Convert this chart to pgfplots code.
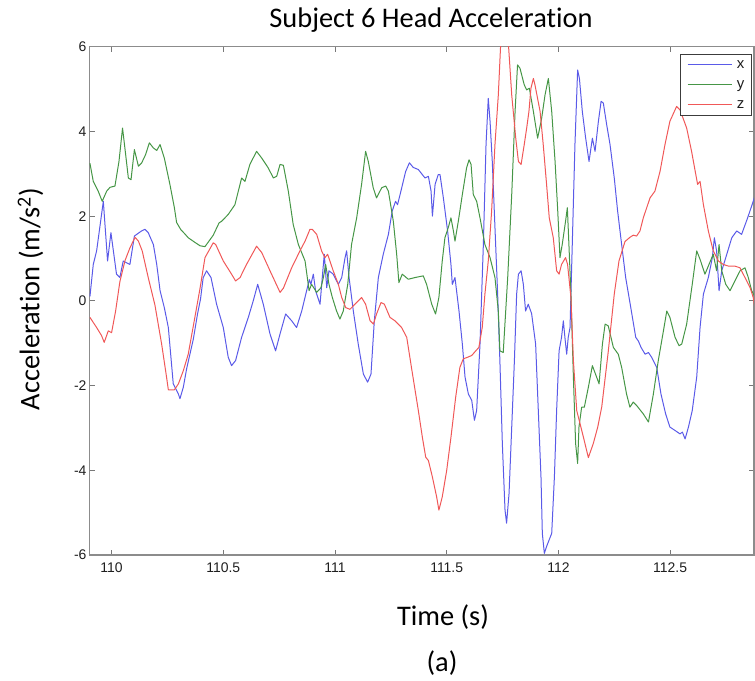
\documentclass[border=0pt]{standalone}
\usepackage{pgfplots}
\pgfplotsset{compat=1.18}
\usepackage{fontspec}
\setmainfont{Carlito}[Ligatures=NoCommon]
\newfontfamily\tickfont{Liberation Sans}
\definecolor{mx}{RGB}{90,90,232}
\definecolor{my}{RGB}{70,150,70}
\definecolor{mz}{RGB}{240,88,88}
\definecolor{axgray}{RGB}{140,140,140}
\definecolor{tickgray}{RGB}{120,120,120}
\definecolor{labgray}{RGB}{30,30,30}
\definecolor{leggray}{RGB}{60,60,60}
\pgfplotsset{legend image code/.code={\draw[#1] (0bp,0bp) -- (44.7bp,0bp);}}
\begin{document}
\begin{tikzpicture}
\path[use as bounding box] (-89.7bp,-126bp) rectangle (665.3bp,555bp);
\begin{axis}[
  at={(0,0)}, anchor=south west,
  scale only axis, width=664.2bp, height=508.3bp,
  xmin=109.902, xmax=112.875, ymin=-6, ymax=6,
  xtick={110,110.5,111,111.5,112,112.5},
  xticklabels={110,110.5,111,111.5,112,112.5},
  ytick={-6,-4,-2,0,2,4,6},
  yticklabels={-6,-4,-2,0,2,4,6},
  tick align=inside, major tick length=5bp,
  tick style={draw=tickgray, line width=0.8bp},
  axis line style={draw=axgray, line width=1.3bp},
  ticklabel style={font=\fontsize{14}{16}\selectfont\tickfont, text=labgray},
  xticklabel style={inner sep=0pt, yshift=-7.5bp},
  yticklabel style={inner sep=0pt, xshift=-3bp},
  legend style={at={(0.9967,0.9856)}, anchor=north east, draw=leggray, line width=0.8bp,
    fill=white, font=\fontsize{15}{17}\selectfont\tickfont, text=labgray,
    inner xsep=7bp, inner ysep=4bp, row sep=6.8bp,
    nodes={inner sep=0pt, text height=10bp, text depth=3bp},
    /tikz/every odd column/.append style={column sep=4bp}},
  legend cell align=left,
  every axis plot/.append style={line width=1bp, line join=round},
]
\addplot[mx] coordinates {
(109.903,0.10)(109.918,0.86)(109.933,1.18)(109.963,2.35)(109.982,0.94)(109.997,1.61)
(110.022,0.63)(110.037,0.55)(110.052,0.94)(110.067,0.90)(110.082,0.86)(110.102,1.53)
(110.134,1.65)(110.149,1.69)(110.164,1.61)(110.187,1.33)(110.202,0.86)(110.217,0.24)
(110.236,-0.16)(110.254,-0.63)(110.276,-1.96)(110.299,-2.20)(110.306,-2.31)(110.321,-2.04)
(110.336,-1.60)(110.366,-0.90)(110.385,-0.30)(110.398,0.04)(110.410,0.55)(110.425,0.71)
(110.445,0.55)(110.470,-0.08)(110.500,-0.63)(110.522,-1.33)(110.537,-1.53)(110.555,-1.41)
(110.582,-0.86)(110.612,-0.39)(110.634,0.00)(110.654,0.39)(110.679,-0.08)(110.709,-0.78)
(110.734,-1.18)(110.754,-0.78)(110.779,-0.31)(110.806,-0.47)(110.828,-0.63)(110.851,-0.24)
(110.873,0.24)(110.885,0.50)(110.892,0.39)(110.903,0.63)(110.913,0.24)(110.933,-0.08)
(110.943,0.55)(110.952,1.10)(110.963,0.31)(110.973,0.71)(110.992,0.63)(111.015,0.39)
(111.030,0.55)(111.045,1.02)(111.052,1.18)(111.063,0.55)(111.082,-0.24)(111.104,-1.02)
(111.127,-1.73)(111.146,-1.92)(111.161,-1.73)(111.176,-0.47)(111.194,0.55)(111.216,1.10)
(111.239,1.57)(111.256,2.12)(111.271,2.35)(111.280,2.27)(111.295,2.59)(111.316,3.05)
(111.333,3.26)(111.350,3.15)(111.373,3.10)(111.391,2.98)(111.403,2.90)(111.418,2.94)
(111.430,2.59)(111.436,2.00)(111.448,2.75)(111.462,2.98)(111.470,2.98)(111.485,2.43)
(111.504,1.65)(111.519,0.86)(111.525,0.39)(111.537,0.55)(111.555,-0.24)(111.570,-1.02)
(111.582,-1.80)(111.597,-2.20)(111.612,-2.35)(111.624,-2.82)(111.634,-2.59)(111.649,-1.02)
(111.664,1.33)(111.676,3.69)(111.686,4.78)(111.694,4.24)(111.704,3.29)(111.716,1.73)
(111.728,0.16)(111.738,-1.41)(111.749,-3.37)(111.761,-4.94)(111.768,-5.25)(111.779,-4.55)
(111.791,-2.98)(111.803,-1.41)(111.813,0.16)(111.821,0.63)(111.833,0.71)(111.843,0.39)
(111.853,-0.24)(111.865,-0.08)(111.880,-0.30)(111.898,-1.02)(111.910,-2.59)(111.922,-4.16)
(111.928,-5.49)(111.937,-5.96)(111.947,-5.80)(111.958,-5.65)(111.970,-5.49)(111.982,-4.16)
(111.992,-2.59)(112.003,-1.18)(112.014,-0.86)(112.022,-0.47)(112.029,-0.86)(112.037,-1.26)
(112.044,-0.86)(112.052,-0.63)(112.062,1.33)(112.074,3.69)(112.086,5.45)(112.094,5.25)
(112.107,4.47)(112.122,3.84)(112.137,3.29)(112.152,3.84)(112.164,3.53)(112.179,4.24)
(112.191,4.71)(112.201,4.67)(112.216,4.16)(112.231,3.69)(112.250,2.90)(112.265,2.12)
(112.283,1.33)(112.301,0.55)(112.322,-0.10)(112.346,-0.86)(112.358,-0.95)(112.370,-1.10)
(112.388,-1.26)(112.403,-1.22)(112.417,-1.33)(112.440,-1.57)(112.459,-2.20)(112.480,-2.67)
(112.499,-2.98)(112.522,-3.06)(112.544,-3.14)(112.555,-3.10)(112.567,-3.26)(112.582,-2.98)
(112.599,-2.59)(112.619,-1.80)(112.634,-0.63)(112.649,0.16)(112.671,0.55)(112.689,1.02)
(112.698,1.49)(112.708,1.18)(112.719,0.24)(112.731,0.71)(112.749,1.02)(112.776,1.49)
(112.798,1.65)(112.820,1.57)(112.847,1.96)(112.872,2.35)(112.881,2.51)
};
\addlegendentry{x}
\addplot[my] coordinates {
(109.903,3.25)(109.918,2.82)(109.940,2.59)(109.958,2.35)(109.978,2.59)(109.993,2.68)
(110.015,2.71)(110.033,3.29)(110.049,4.08)(110.063,3.45)(110.075,2.90)(110.087,2.86)
(110.102,3.57)(110.120,3.18)(110.134,3.25)(110.152,3.45)(110.169,3.73)(110.187,3.61)
(110.202,3.55)(110.217,3.69)(110.236,3.37)(110.261,2.75)(110.281,2.20)(110.291,1.85)
(110.310,1.68)(110.328,1.58)(110.343,1.49)(110.373,1.38)(110.396,1.30)(110.418,1.28)
(110.455,1.55)(110.481,1.84)(110.493,1.88)(110.522,2.04)(110.552,2.27)(110.582,2.90)
(110.597,2.82)(110.619,3.22)(110.649,3.53)(110.672,3.37)(110.701,3.14)(110.724,2.90)
(110.739,2.94)(110.754,3.22)(110.769,3.20)(110.791,2.59)(110.813,1.80)(110.836,1.33)
(110.866,0.94)(110.884,0.24)(110.895,0.39)(110.918,0.20)(110.937,0.31)(110.948,0.55)
(110.958,0.86)(110.973,0.39)(110.988,0.08)(111.007,-0.24)(111.022,-0.43)(111.037,-0.24)
(111.057,0.39)(111.074,1.33)(111.097,1.96)(111.119,2.75)(111.137,3.53)(111.149,3.29)
(111.171,2.67)(111.186,2.43)(111.209,2.67)(111.227,2.71)(111.239,2.59)(111.261,1.88)
(111.276,1.10)(111.286,0.43)(111.301,0.63)(111.328,0.51)(111.358,0.55)(111.395,0.59)
(111.410,0.39)(111.433,-0.08)(111.450,-0.31)(111.465,0.08)(111.480,0.94)(111.492,1.49)
(111.507,1.73)(111.519,1.96)(111.530,1.65)(111.537,1.41)(111.552,1.88)(111.570,2.51)
(111.589,3.14)(111.600,3.33)(111.609,3.22)(111.619,2.51)(111.634,2.35)(111.649,1.96)
(111.671,1.33)(111.694,1.02)(111.716,0.55)(111.731,-0.24)(111.738,-1.18)(111.753,-1.22)
(111.773,0.55)(111.791,2.51)(111.806,4.47)(111.817,5.57)(111.828,5.49)(111.847,5.10)
(111.858,4.98)(111.870,5.02)(111.888,4.47)(111.907,3.84)(111.925,4.31)(111.940,4.86)
(111.955,5.25)(111.970,4.47)(111.985,3.29)(111.997,2.12)(112.007,1.02)(112.017,1.33)
(112.032,1.88)(112.040,2.20)(112.047,1.33)(112.056,0.16)(112.067,-1.80)(112.077,-3.37)
(112.086,-3.84)(112.092,-2.98)(112.104,-2.51)(112.116,-2.51)(112.134,-2.04)(112.152,-1.53)
(112.171,-1.80)(112.182,-1.96)(112.197,-1.02)(112.209,-0.55)(112.223,-0.59)(112.246,-1.10)
(112.268,-1.26)(112.283,-1.57)(112.305,-2.20)(112.320,-2.51)(112.335,-2.39)(112.350,-2.47)
(112.380,-2.67)(112.403,-2.86)(112.425,-2.20)(112.447,-1.41)(112.470,-0.71)(112.485,-0.24)
(112.499,-0.39)(112.522,-0.86)(112.540,-1.06)(112.552,-1.02)(112.574,-0.55)(112.599,0.39)
(112.619,1.18)(112.634,0.98)(112.656,0.63)(112.674,0.86)(112.693,1.10)(112.708,0.71)
(112.719,1.33)(112.731,0.71)(112.749,0.39)(112.768,0.24)(112.790,0.47)(112.813,0.71)
(112.835,0.78)(112.850,0.55)(112.865,0.24)(112.881,0.08)
};
\addlegendentry{y}
\addplot[mz] coordinates {
(109.903,-0.39)(109.933,-0.63)(109.955,-0.82)(109.967,-0.98)(109.985,-0.71)(110.000,-0.75)
(110.018,-0.24)(110.037,0.45)(110.060,0.95)(110.082,1.25)(110.105,1.50)(110.120,1.41)
(110.137,1.18)(110.164,0.55)(110.194,-0.10)(110.224,-1.02)(110.246,-1.80)(110.254,-2.10)
(110.281,-2.10)(110.299,-1.96)(110.321,-1.65)(110.343,-1.26)(110.370,-0.47)(110.396,0.30)
(110.418,1.02)(110.455,1.37)(110.466,1.33)(110.500,0.94)(110.537,0.63)(110.555,0.47)
(110.575,0.55)(110.604,0.86)(110.649,1.29)(110.672,1.14)(110.709,0.71)(110.754,0.20)
(110.769,0.30)(110.806,0.78)(110.843,1.18)(110.866,1.41)(110.888,1.69)(110.898,1.69)
(110.918,1.57)(110.940,1.18)(110.955,1.02)(110.967,1.10)(110.992,0.71)(111.015,0.39)
(111.030,0.08)(111.048,-0.16)(111.067,-0.20)(111.089,-0.08)(111.119,0.08)(111.137,-0.08)
(111.157,-0.47)(111.172,-0.55)(111.186,-0.31)(111.206,-0.04)(111.221,-0.08)(111.246,-0.39)
(111.268,-0.47)(111.298,-0.63)(111.321,-0.86)(111.343,-1.60)(111.373,-2.59)(111.391,-3.22)
(111.406,-3.69)(111.418,-3.77)(111.436,-4.16)(111.455,-4.63)(111.465,-4.94)(111.480,-4.63)
(111.500,-4.00)(111.519,-3.22)(111.540,-2.28)(111.559,-1.57)(111.574,-1.37)(111.594,-1.33)
(111.612,-1.29)(111.630,-1.18)(111.644,-1.10)(111.659,-0.63)(111.671,0.16)(111.686,0.94)
(111.701,2.12)(111.716,3.69)(111.731,4.86)(111.741,6.0)(111.753,6.4)(111.768,6.3)
(111.777,6.0)(111.791,4.86)(111.809,3.84)(111.821,3.29)(111.833,3.22)(111.847,3.69)
(111.858,4.08)(111.868,4.47)(111.877,5.02)(111.888,5.25)(111.895,5.10)(111.918,4.47)
(111.932,3.69)(111.947,2.75)(111.959,1.96)(111.977,1.49)(111.992,0.71)(112.003,0.63)
(112.014,0.86)(112.032,1.02)(112.041,0.86)(112.056,0.08)(112.067,-1.41)(112.082,-2.59)
(112.112,-3.22)(112.134,-3.70)(112.156,-3.37)(112.176,-2.98)(112.194,-2.50)(112.223,-1.20)
(112.250,0.16)(112.271,0.94)(112.298,1.40)(112.320,1.50)(112.335,1.55)(112.350,1.53)
(112.365,1.65)(112.380,1.96)(112.410,2.43)(112.432,2.59)(112.455,3.06)(112.477,3.69)
(112.499,4.24)(112.529,4.59)(112.544,4.51)(112.574,4.08)(112.596,3.53)(112.623,2.75)
(112.634,2.82)(112.649,2.27)(112.671,1.65)(112.693,1.18)(112.716,0.94)(112.738,0.86)
(112.761,0.82)(112.790,0.82)(112.813,0.78)(112.835,0.55)(112.858,0.31)(112.872,0.08)
(112.881,-0.24)
};
\addlegendentry{z}
\end{axis}
\node[anchor=base, font=\fontsize{28.5}{32}\selectfont] at (341.3bp,527.7bp) {Subject 6 Head Acceleration};
\node[anchor=base, rotate=90, font=\fontsize{28.5}{32}\selectfont] at (-50.2bp,256bp) {Acceleration (m/s\textsuperscript{2})};
\node[anchor=base, font=\fontsize{28.5}{32}\selectfont] at (353.3bp,-70bp) {Time (s)};
\node[anchor=base, font=\fontsize{28.5}{32}\selectfont] at (352.3bp,-116bp) {(a)};
\end{tikzpicture}
\end{document}
